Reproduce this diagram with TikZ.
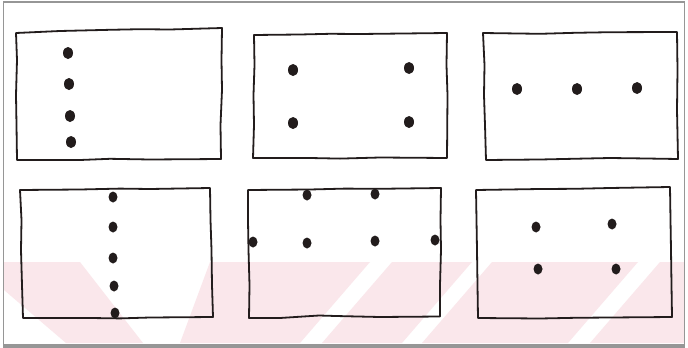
\documentclass[tikz,border=0pt]{standalone}
\usetikzlibrary{shapes.geometric}
\definecolor{ink}{RGB}{34,28,28}
\definecolor{wmpink}{RGB}{250,231,235}
\definecolor{framegray}{RGB}{150,150,150}
\tikzset{
  sketch/.style={draw=ink, line width=1.8pt, line join=round, line cap=round},
  dot/.style={shape=ellipse, fill=ink, draw=none, inner sep=0pt, minimum width=10pt, minimum height=12pt},
  smalldot/.style={dot, minimum width=9pt, minimum height=11pt},
  wm/.style={fill=wmpink, draw=none}
}
\begin{document}
\begin{tikzpicture}[x=1pt,y=-1pt]
\useasboundingbox (0,0) rectangle (688,348);
\fill[white] (0,0) rectangle (688,348);
% faint watermark stripes
\fill[wm] (4,262) -- (80,262) -- (143,343) -- (66,343) -- (4,290) -- cycle;
\fill[wm] (210,262) -- (370,262) -- (300,343) -- (180,343) -- cycle;
\fill[wm] (392,262) -- (472,262) -- (402,343) -- (322,343) -- cycle;
\fill[wm] (492,262) -- (638,262) -- (568,343) -- (422,343) -- cycle;
\fill[wm] (660,262) -- (684,262) -- (684,343) -- (590,343) -- cycle;
% outer frame
\draw[framegray, line width=1.2pt] (3.5,2) rectangle (684.5,345);
\draw[framegray, line width=2.5pt] (3,346.5) -- (685,346.5);
% panel 1
\draw[sketch] (16,33) -- (60,31) -- (110,29.8) -- (140,29.2) -- (170,29.5) -- (222,28) -- (221.5,60) -- (222,90) -- (220.5,125) -- (221,159) -- (150,159.5) -- (110,158.8) -- (80,160) -- (17,160) -- (16.5,125) -- (16,95) -- (17,60) -- cycle;
\node[dot] (p1a) at (68,53) {};
\node[dot] (p1b) at (69,84) {};
\node[dot] (p1c) at (70,116) {};
\node[dot] (p1d) at (71,142) {};
% panel 2
\draw[sketch] (254,35) -- (300,34.5) -- (330,33.8) -- (360,34) -- (447,33) -- (446.5,65) -- (447.5,95) -- (447,158) -- (380,157.5) -- (340,158.6) -- (310,158) -- (253,158) -- (254,125) -- (253.5,95) -- (254.5,65) -- cycle;
\node[dot] (p2a) at (293,70) {};
\node[dot] (p2b) at (409,68) {};
\node[dot] (p2c) at (293,123) {};
\node[dot] (p2d) at (409,122) {};
% panel 3
\draw[sketch] (483,33) -- (540,33.8) -- (575,32.8) -- (610,32.2) -- (677,32) -- (677.5,70) -- (677,110) -- (678,159) -- (640,158.4) -- (610,158) -- (540,159.5) -- (486,160) -- (485,125) -- (484,95) -- (484.5,65) -- cycle;
\node[dot] (p3a) at (517,89) {};
\node[dot] (p3b) at (577,89) {};
\node[dot] (p3c) at (637,88) {};
% panel 4
\draw[sketch] (20,190) -- (80,189.5) -- (120,188.6) -- (150,189) -- (210,188) -- (210.5,220) -- (211.5,250) -- (212,285) -- (213,317) -- (150,317.5) -- (120,318.4) -- (90,318) -- (23,318) -- (22,285) -- (21,250) -- (21.5,220) -- cycle;
\node[smalldot] (p4a) at (113,197) {};
\node[smalldot] (p4b) at (113,227) {};
\node[smalldot] (p4c) at (113,258) {};
\node[smalldot] (p4d) at (114,286) {};
\node[smalldot] (p4e) at (115,313) {};
% panel 5
\draw[sketch] (248,190) -- (310,189.5) -- (345,188.6) -- (380,188.8) -- (441,188) -- (440.5,220) -- (441,250) -- (440,285) -- (440,316.5) -- (380,317) -- (336,316) -- (319,315.5) -- (280,318) -- (249,318) -- (249.5,285) -- (248.5,250) -- (248,220) -- cycle;
\node[smalldot] (p5a) at (307,195) {};
\node[smalldot] (p5b) at (375,194) {};
\node[smalldot] (p5c) at (253,242) {};
\node[smalldot] (p5d) at (307,243) {};
\node[smalldot] (p5e) at (375,241) {};
\node[smalldot] (p5f) at (435,240) {};
% panel 6
\draw[sketch] (476,190) -- (540,189) -- (575,188.8) -- (610,188) -- (670,187) -- (670.5,220) -- (671,250) -- (671.5,285) -- (672,317) -- (610,317.5) -- (575,317.8) -- (540,318.5) -- (478,318) -- (477.5,285) -- (477,250) -- (476.5,220) -- cycle;
\node[smalldot] (p6a) at (536,227) {};
\node[smalldot] (p6b) at (612,224) {};
\node[smalldot] (p6c) at (538,269) {};
\node[smalldot] (p6d) at (616,269) {};
\end{tikzpicture}
\end{document}
